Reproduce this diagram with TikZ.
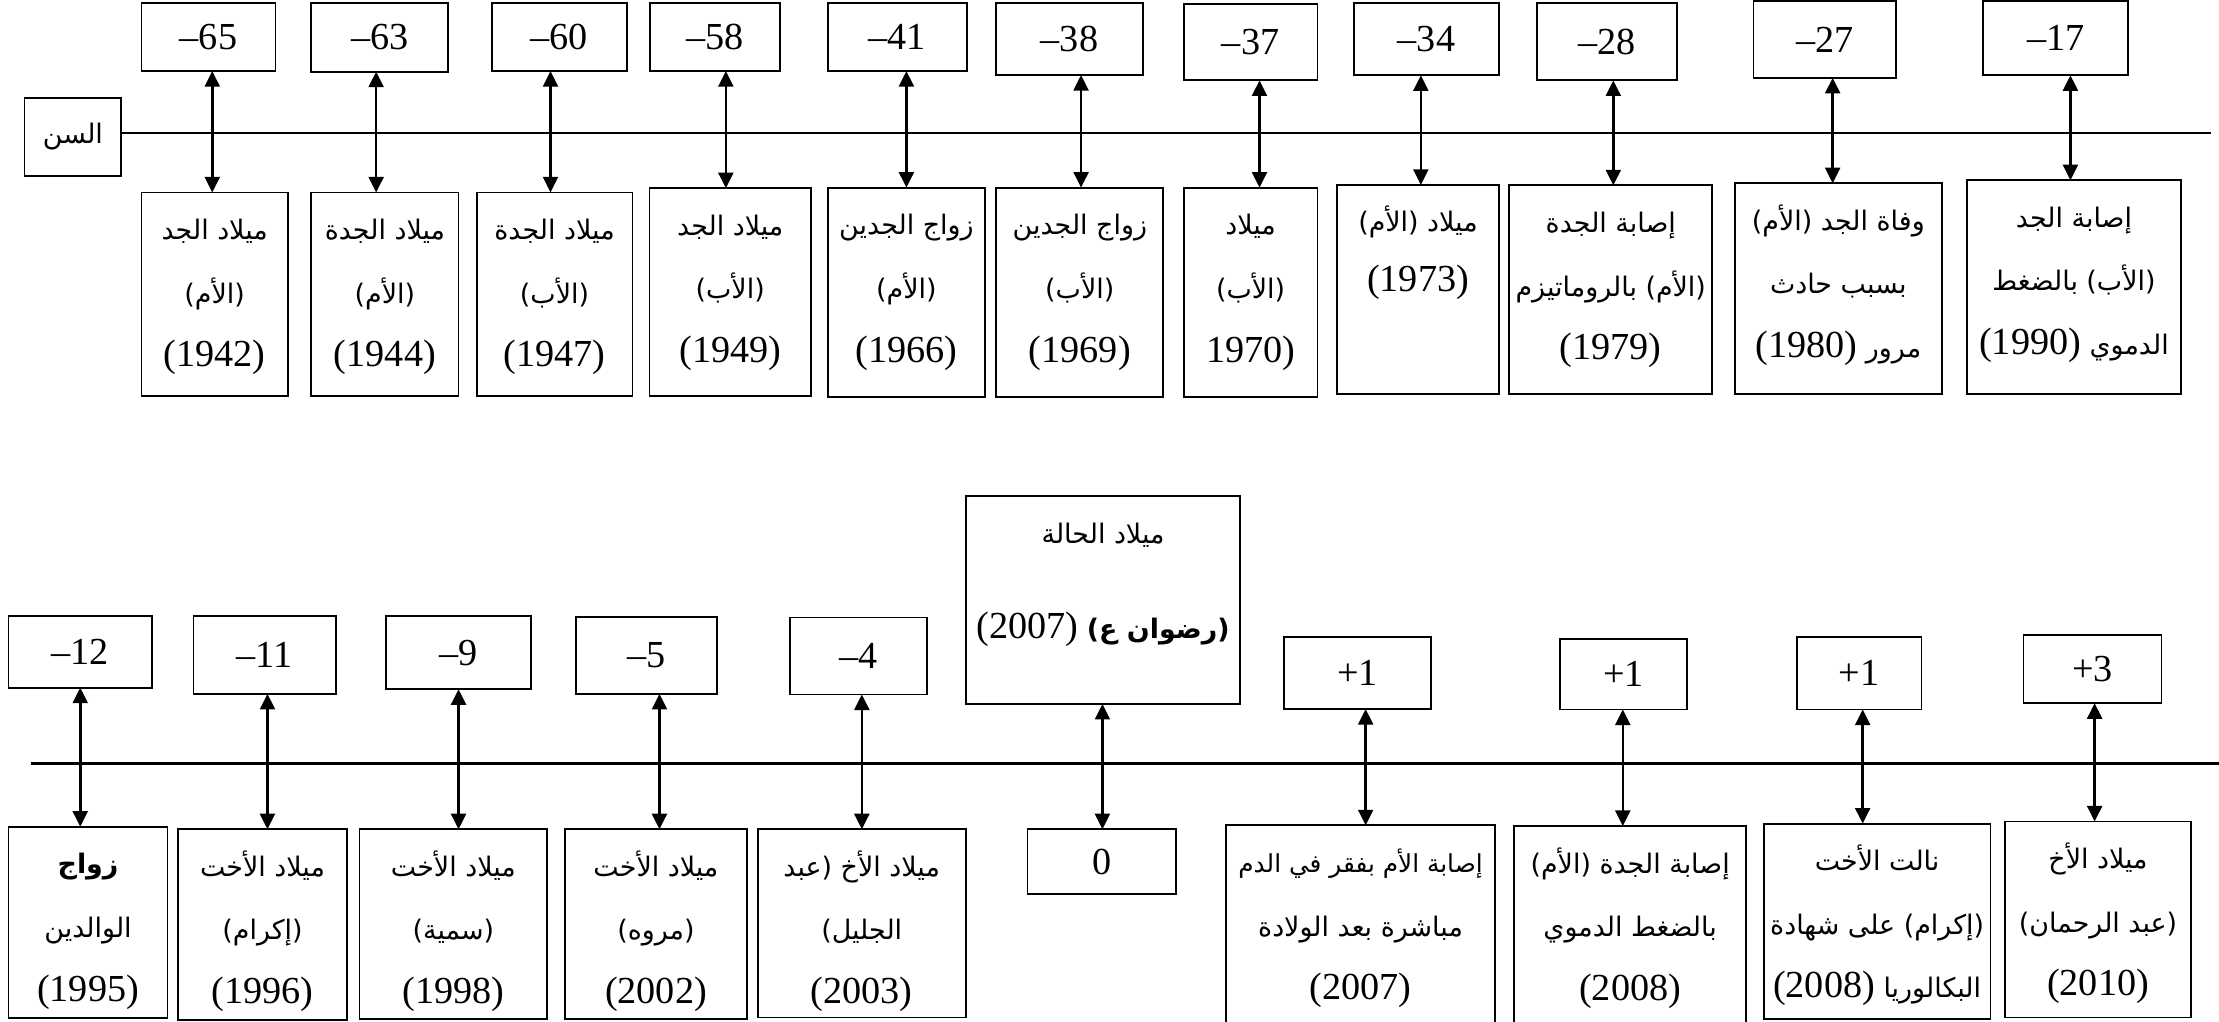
\documentclass[tikz,border=0pt]{standalone}
\usepackage{fontspec}
\setmainfont{Liberation Serif}
\newfontfamily\arabicfont[Script=Arabic]{DejaVu Sans}
\TeXXeTstate=1
\usetikzlibrary{arrows.meta}

% Arabic run (right to left) and a Latin year inside it
\newcommand\ar[1]{{\arabicfont\beginR #1\endR}}
\newcommand\yr[1]{{\rmfamily\fontsize{27}{45}\selectfont\beginL #1\endL}}

\tikzset{
  frame/.style={draw, line width=1.3pt, inner sep=0pt, outer sep=0pt},
  age/.style={frame, font=\fontsize{27}{30}\selectfont},
  lbl/.style={align=center, inner sep=0pt, anchor=north, font=\fontsize{19}{45}\selectfont},
  axis/.style={line width=1.5pt},
  link/.style={line width=1.8pt,
    {Triangle[width=10.5pt,length=11pt]}-{Triangle[width=10.5pt,length=11pt]}},
}

% rectangle node given by its corners: style, name, x1, y1, x2, y2, text
\newcommand\place[7]{%
  \node[#1, minimum width={(#5-#3)*1pt}, minimum height={(#6-#4)*1pt}]
    (#2) at ({(#3+#5)/2},{(#4+#6)/2}) {#7};}
% event text hung from the top edge of its box
\newcommand\events[2]{%
  \node[lbl] (#1t) at ([yshift=-13pt]#1.north) {\rule{0pt}{20pt}#2};}

\begin{document}
\begin{tikzpicture}[x=1pt, y=-1pt]
\useasboundingbox (0,0) rectangle (1568,722);
\clip (0,0) rectangle (1568,722);

% ---------- upper timeline ----------
\place{age}{sen}{17.3}{69.2}{85.7}{124.4}{{\fontsize{19}{22}\selectfont\ar{السن}}}
\coordinate (l1e) at (1562,94);
\draw[axis] (sen.east |- l1e) -- (l1e);

\place{age}{t1}{100}{1.9}{194.7}{50.2}{–65}
\place{age}{t2}{220}{2.4}{316.8}{50.6}{–63}
\place{age}{t3}{347.5}{1.9}{442.8}{50.2}{–60}
\place{age}{t4}{459.2}{1.9}{551}{50.2}{–58}
\place{age}{t5}{585}{1.9}{683}{50.2}{–41}
\place{age}{t6}{704}{1.9}{807.4}{53}{–38}
\place{age}{t7}{836.4}{2.8}{931}{56.8}{–37}
\place{age}{t8}{957}{1.9}{1059}{53.2}{–34}
\place{age}{t9}{1086}{1.9}{1185}{56.8}{–28}
\place{age}{t10}{1239}{0.8}{1340}{55}{–27}
\place{age}{t11}{1401.5}{0.8}{1503.7}{53.2}{–17}

\place{frame}{b1}{100}{136}{203.4}{280}{}
\place{frame}{b2}{220}{136}{324}{280}{}
\place{frame}{b3}{336.8}{136}{446.9}{280}{}
\place{frame}{b4}{459}{133}{573}{280}{}
\place{frame}{b5}{585}{132.6}{696}{280.3}{}
\place{frame}{b6}{704}{132.6}{822}{280.3}{}
\place{frame}{b7}{836.4}{132.6}{931}{280.3}{}
\place{frame}{b8}{945}{130.7}{1059}{278.4}{}
\place{frame}{b9}{1066.4}{131}{1210}{278.4}{}
\place{frame}{b10}{1226}{129.5}{1372}{278.4}{}
\place{frame}{b11}{1390}{127.4}{1541}{278.4}{}

\events{b1}{\ar{ميلاد الجد}\\\ar{(الأم)}\\\yr{(1942)}}
\events{b2}{\ar{ميلاد الجدة}\\\ar{(الأم)}\\\yr{(1944)}}
\events{b3}{\ar{ميلاد الجدة}\\\ar{(الأب)}\\\yr{(1947)}}
\events{b4}{\ar{ميلاد الجد}\\\ar{(الأب)}\\\yr{(1949)}}
\events{b5}{\ar{زواج الجدين}\\\ar{(الأم)}\\\yr{(1966)}}
\events{b6}{\ar{زواج الجدين}\\\ar{(الأب)}\\\yr{(1969)}}
\events{b7}{\ar{ميلاد}\\\ar{(الأب)}\\\yr{1970)}}
\events{b8}{\ar{ميلاد (الأم)}\\[-3pt]\yr{(1973)}}
\events{b9}{\ar{إصابة الجدة}\\\ar{(الأم) بالروماتيزم}\\\yr{(1979)}}
\events{b10}{\ar{وفاة الجد (الأم)}\\\ar{بسبب حادث}\\\ar{مرور \yr{(1980)}}}
\events{b11}{\ar{إصابة الجد}\\\ar{(الأب) بالضغط}\\\ar{الدموي \yr{(1990)}}}

\draw[link] (t1.south -| 150,0) -- (b1.north -| 150,0);
\draw[link] (t2.south -| 265.8,0) -- (b2.north -| 265.8,0);
\draw[link] (t3.south -| 389,0) -- (b3.north -| 389,0);
\draw[link] (t4.south -| 512.9,0) -- (b4.north -| 512.9,0);
\draw[link] (t5.south -| 640.5,0) -- (b5.north -| 640.5,0);
\draw[link] (t6.south -| 763.9,0) -- (b6.north -| 763.9,0);
\draw[link] (t7.south -| 890,0) -- (b7.north -| 890,0);
\draw[link] (t8.south -| 1004,0) -- (b8.north -| 1004,0);
\draw[link] (t9.south -| 1140,0) -- (b9.north -| 1140,0);
\draw[link] (t10.south -| 1295,0) -- (b10.north -| 1295,0);
\draw[link] (t11.south -| 1463,0) -- (b11.north -| 1463,0);

% ---------- lower timeline ----------
\coordinate (l2s) at (21.7,539.5);
\coordinate (l2e) at (1568,539.5);
\draw[axis] (l2s) -- (l2e);

\place{age}{u1}{6}{435.3}{107.4}{485.9}{–12}
\place{age}{u2}{136.7}{435.3}{237.4}{490.3}{–11}
\place{age}{u3}{272.8}{435.3}{375.5}{487}{–9}
\place{age}{u4}{406.8}{435.8}{506.9}{490.3}{–5}
\place{age}{u5}{558}{436.3}{655}{490.7}{–4}
\place{frame}{u6}{682.6}{350.7}{876.3}{497.4}{}
\place{age}{u7}{907.3}{450}{1011.4}{501}{+1}
\place{age}{u8}{1102.3}{451.5}{1192.3}{501.3}{+1}
\place{age}{u9}{1269.6}{450}{1357.8}{501.3}{+1}
\place{age}{u10}{1429.8}{448.5}{1527.3}{496.9}{+3}

\place{frame}{d1}{6}{584.2}{118.4}{719.3}{}
\place{frame}{d2}{126}{586}{245}{720.5}{}
\place{frame}{d3}{254}{586}{386.8}{720}{}
\place{frame}{d4}{399}{586}{528}{720}{}
\place{frame}{d5}{535.5}{586}{682.3}{719}{}
\place{age}{d6}{726}{586}{831}{632}{0}
\place{frame}{d7}{866.3}{583.2}{1056.5}{740}{}
\place{frame}{d8}{1069.8}{583.7}{1234}{740}{}
\place{frame}{d9}{1246.3}{582}{1406.5}{720}{}
\place{frame}{d10}{1417}{580.5}{1548}{719}{}

\events{u6}{\ar{ميلاد الحالة}\\[22pt]\ar{{\bfseries(رضوان ع)} \yr{(2007)}}}
\events{d1}{{\bfseries\ar{زواج}}\\\ar{الوالدين}\\\yr{(1995)}}
\events{d2}{\ar{ميلاد الأخت}\\\ar{(إكرام)}\\\yr{(1996)}}
\events{d3}{\ar{ميلاد الأخت}\\\ar{(سمية)}\\\yr{(1998)}}
\events{d4}{\ar{ميلاد الأخت}\\\ar{(مروه)}\\\yr{(2002)}}
\events{d5}{\ar{ميلاد الأخ (عبد}\\\ar{الجليل)}\\\yr{(2003)}}
\events{d7}{{\fontsize{17.5}{45}\selectfont\ar{إصابة الأم بفقر في الدم}}\\\ar{مباشرة بعد الولادة}\\\yr{(2007)}}
\events{d8}{\ar{إصابة الجدة (الأم)}\\\ar{بالضغط الدموي}\\\yr{(2008)}}
\events{d9}{\ar{نالت الأخت}\\\ar{(إكرام) على شهادة}\\\ar{البكالوريا \yr{(2008)}}}
\events{d10}{\ar{ميلاد الأخ}\\\ar{(عبد الرحمان)}\\\yr{(2010)}}

\draw[link] (u1.south -| 56.7,0) -- (d1.north -| 56.7,0);
\draw[link] (u2.south -| 189,0) -- (d2.north -| 189,0);
\draw[link] (u3.south -| 324,0) -- (d3.north -| 324,0);
\draw[link] (u4.south -| 466,0) -- (d4.north -| 466,0);
\draw[link] (u5.south -| 609,0) -- (d5.north -| 609,0);
\draw[link] (u6.south -| 779,0) -- (d6.north -| 779,0);
\draw[link] (u7.south -| 965,0) -- (d7.north -| 965,0);
\draw[link] (u8.south -| 1146.7,0) -- (d8.north -| 1146.7,0);
\draw[link] (u9.south -| 1316.2,0) -- (d9.north -| 1316.2,0);
\draw[link] (u10.south -| 1480.1,0) -- (d10.north -| 1480.1,0);
\end{tikzpicture}
\end{document}
